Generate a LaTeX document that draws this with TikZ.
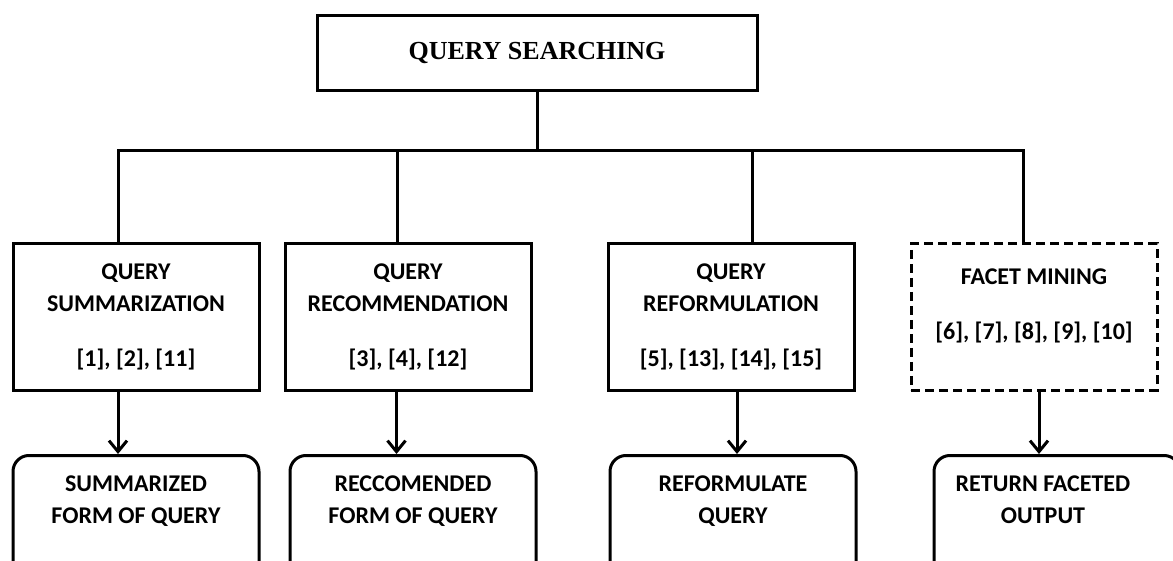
\documentclass[tikz,border=0pt]{standalone}
\usepackage{fontspec}
\setmainfont{Carlito}
\newfontfamily\headfont{Liberation Serif}
\usetikzlibrary{positioning,arrows.meta}

\begin{document}
\begin{tikzpicture}[x=1pt, y=-1pt, line width=3pt,
  method/.style={draw, minimum width=246, minimum height=146, align=center, inner sep=0pt,
    font=\bfseries\fontsize{24}{32}\selectfont},
  outbox/.style={draw, rounded corners=16pt, minimum width=246, minimum height=150, anchor=north},
  outtext/.style={align=center, inner sep=0pt, font=\bfseries\fontsize{24}{32}\selectfont},
  arr/.style={-{Straight Barb[length=11pt,width=18pt,line width=3pt]}}]
\useasboundingbox (0,0) rectangle (1173,561);
\clip (0,0) rectangle (1173,561);

% root
\node[draw, minimum width=440, minimum height=75, font=\headfont\bfseries\fontsize{26}{30}\selectfont] (top) at (537,53) {QUERY SEARCHING};

% methods
\node[method] (summ) at (136,317) {QUERY\\SUMMARIZATION\\[23pt][1], [2], [11]};
\node[method] (recom) at (408,317) {QUERY\\RECOMMENDATION\\[23pt][3], [4], [12]};
\node[method] (reform) at (731,317) {QUERY\\REFORMULATION\\[23pt][5], [13], [14], [15]};
\node[method, dash pattern=on 9pt off 5pt] (facet) at (1034,317) {FACET MINING\\[23pt][6], [7], [8], [9], [10]\\[-6pt]\mbox{}};

% outputs
\node[outbox] (summout) at (136,454) {};
\node[outbox] (recomout) at (413,454) {};
\node[outbox] (reformout) at (733,454) {};
\node[outbox] (facetout) at (1057,454) {};
\node[outtext, below=20pt of summout.north] (summtxt) {SUMMARIZED\\FORM OF QUERY};
\node[outtext, below=20pt of recomout.north] (recomtxt) {RECCOMENDED\\FORM OF QUERY};
\node[outtext, below=20pt of reformout.north] (reformtxt) {REFORMULATE\\QUERY};
\node[outtext, below=20pt of facetout.north, xshift=-14pt] (facettxt) {RETURN FACETED\\OUTPUT};

% tree
\coordinate (hub) at (537,151);
\draw (top.south) -- (hub);
\draw (hub) -| ([xshift=-18]summ.north);
\draw (hub) -| ([xshift=-11]recom.north);
\draw (hub) -| ([xshift=21]reform.north);
\draw (hub) -| ([xshift=-11]facet.north);

\draw[arr] ([xshift=-18]summ.south) -- ([xshift=-18]summout.north);
\draw[arr] ([xshift=-11.5]recom.south) -- ([xshift=-16.5]recomout.north);
\draw[arr] ([xshift=6]reform.south) -- ([xshift=4]reformout.north);
\draw[arr] ([xshift=5]facet.south) -- ([xshift=-18]facetout.north);
\end{tikzpicture}
\end{document}
